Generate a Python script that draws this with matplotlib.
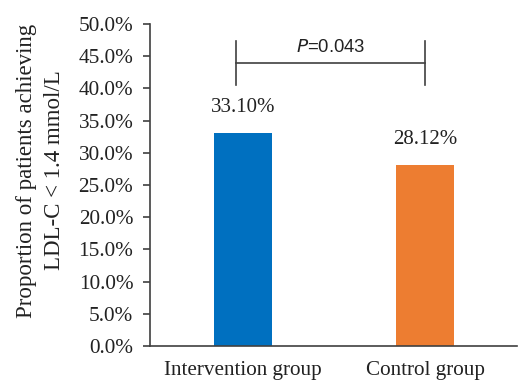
import matplotlib
matplotlib.use("Agg")
import matplotlib.pyplot as plt
from matplotlib.ticker import PercentFormatter

categories = ["Intervention group", "Control group"]
values = [33.10, 28.12]
value_labels = ["33.10%", "28.12%"]
colors = ["#0070C0", "#ED7D31"]
p_text = "=0.043"
yticks = [0, 5, 10, 15, 20, 25, 30, 35, 40, 45, 50]

serif = ["Liberation Serif", "DejaVu Serif"]
sans = ["Liberation Sans", "DejaVu Sans"]

fig = plt.figure(figsize=(5.32, 3.88), dpi=100)
ax = fig.add_axes([150/532, 42/388, 367/532, 322/388])

x = list(range(len(categories)))
ax.bar(x, values, width=0.32, color=colors)
ax.set_xlim(-0.51, 1.505)
ax.set_ylim(0, 50)
ax.set_yticks(yticks)
ax.yaxis.set_major_formatter(PercentFormatter(decimals=1))
ax.set_xticks(x)
ax.set_xticklabels(categories)

for s in ["top", "right"]:
    ax.spines[s].set_visible(False)
for s in ["left", "bottom"]:
    ax.spines[s].set_color("#404040")
    ax.spines[s].set_linewidth(1.2)
ax.tick_params(axis="y", length=5, width=1.2, color="#404040", pad=7, labelsize=15.3)
ax.tick_params(axis="x", length=0, pad=11, labelsize=15.2)
for lab in ax.get_yticklabels() + ax.get_xticklabels():
    lab.set_family(serif)
    lab.set_color("#222222")

for xi, v, lab in zip(x, values, value_labels):
    ax.text(xi, v + 2.4, lab, ha="center", va="bottom", fontsize=15,
            family=serif, color="#222222")

# significance bracket
bx0, bx1 = -0.04, 1.0
ax.plot([bx0, bx1], [44.0, 44.0], color="#404040", lw=1.2)
ax.plot([bx0, bx0], [40.5, 47.3], color="#404040", lw=1.2)
ax.plot([bx1, bx1], [40.5, 47.3], color="#404040", lw=1.2)
ax.text((bx0 + bx1) / 2, 45.0, r"$\it{P}$" + p_text, ha="center", va="bottom",
        fontsize=13.3, family=sans, color="#222222")

fig.text(27/532, 1 - 171/388, "Proportion of patients achieving", rotation=90,
         ha="center", va="center", fontsize=16.5, family=serif, color="#222222")
fig.text(55/532, 1 - 170/388, "LDL-C < 1.4 mmol/L", rotation=90,
         ha="center", va="center", fontsize=16.5, family=serif, color="#222222")

fig.savefig("out.png", dpi=100)
